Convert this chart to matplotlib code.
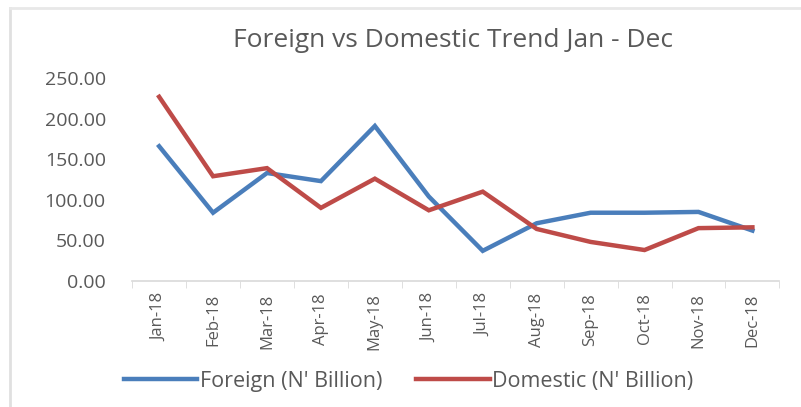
import matplotlib.pyplot as plt
import numpy as np

months = ['Jan-18', 'Feb-18', 'Mar-18', 'Apr-18', 'May-18', 'Jun-18',
          'Jul-18', 'Aug-18', 'Sep-18', 'Oct-18', 'Nov-18', 'Dec-18']
foreign = [166, 84, 133, 123, 191, 104, 37, 71, 84, 84, 85, 62]
domestic = [227, 129, 139, 90, 126, 87, 110, 64, 48, 38, 65, 66]
yticks = [0, 50, 100, 150, 200, 250]

blue = '#4A7EBB'
red = '#BE4B48'
grey = '#595959'

plt.rcParams['font.family'] = ['Open Sans', 'DejaVu Sans']

fig = plt.figure(figsize=(8.01, 4.07), dpi=100)
ax = fig.add_axes([0.165, 0.31, 0.808, 0.498])

x = np.arange(len(months))
ax.plot(x, foreign, color=blue, linewidth=3.2, label="Foreign (N' Billion)",
        solid_joinstyle='miter')
ax.plot(x, domestic, color=red, linewidth=3.2, label="Domestic (N' Billion)",
        solid_joinstyle='miter')

ax.set_xlim(-0.5, len(months) - 0.5)
ax.set_ylim(0, 250)
ax.set_yticks(yticks)
ax.set_yticklabels([f'{v:.2f}' for v in yticks], fontsize=14, color=grey)
ax.set_xticks(x)
ax.set_xticklabels(months, rotation=90, fontsize=12, color=grey)
ax.tick_params(axis='y', length=0, pad=19)
ax.tick_params(axis='x', length=0, pad=9)

# category boundary tick marks like Excel
ax.set_xticks(np.arange(-0.5, len(months)), minor=True)
ax.tick_params(axis='x', which='minor', length=5, color='#D9D9D9', direction='out')

for s in ['top', 'right', 'left']:
    ax.spines[s].set_visible(False)
ax.spines['bottom'].set_color('#D9D9D9')
ax.spines['bottom'].set_linewidth(1.2)

fig.text(0.565, 0.9, 'Foreign vs Domestic Trend Jan - Dec', ha='center', va='center',
         fontsize=19, color=grey)

leg = fig.legend(loc='center', bbox_to_anchor=(0.51, 0.063), ncol=2, frameon=False,
                 fontsize=15.5, handlelength=3.4, handletextpad=0.1, columnspacing=1.6)
for t in leg.get_texts():
    t.set_color(grey)

# faint frame edges of the original screenshot
fig.add_artist(plt.Line2D([0.012, 0.012], [0, 0.98], color='#E0E0E0', linewidth=2,
                          transform=fig.transFigure))
fig.add_artist(plt.Line2D([0.012, 1], [0.98, 0.98], color='#E8E8E8', linewidth=2,
                          transform=fig.transFigure))

fig.savefig('out.png', dpi=100)
